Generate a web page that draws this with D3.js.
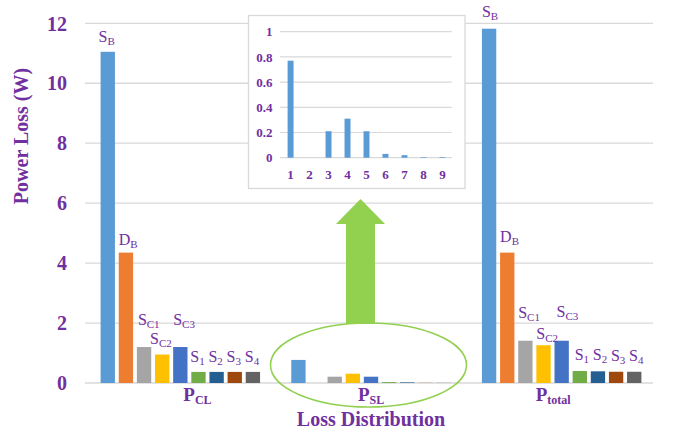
<!DOCTYPE html>
<html>
<head>
<meta charset="utf-8">
<script src="https://cdn.jsdelivr.net/npm/d3@7"></script>
<style>
  html, body { margin: 0; padding: 0; background: #fff; }
  svg { display: block; }
</style>
</head>
<body>
<svg id="chart" width="673" height="432"></svg>
<script>
// ---------------- DATA ----------------
const groups = ["CL", "SL", "total"];
const components = ["SB", "DB", "SC1", "SC2", "SC3", "S1", "S2", "S3", "S4"];
const compMain = ["S", "D", "S", "S", "S", "S", "S", "S", "S"];
const compSub  = ["B", "B", "C1", "C2", "C3", "1", "2", "3", "4"];
const pCL    = [11.05, 4.35, 1.20, 0.95, 1.20, 0.37, 0.37, 0.37, 0.37];
const pSL    = [0.77, 0.00, 0.21, 0.31, 0.21, 0.03, 0.02, 0.005, 0.005];
const pTotal = [11.82, 4.35, 1.41, 1.26, 1.41, 0.40, 0.39, 0.375, 0.375];
const yTicks = [0, 2, 4, 6, 8, 10, 12];
const insetLabels = ["1", "2", "3", "4", "5", "6", "7", "8", "9"];
const insetValues = [0.77, 0.00, 0.21, 0.31, 0.21, 0.03, 0.02, 0.005, 0.005];
const insetTicks = [0, 0.2, 0.4, 0.6, 0.8, 1];
const insetTickLabels = ["0", "0.2", "0.4", "0.6", "0.8", "1"];

// --------------- STYLE ----------------
const colors = ["#5B9BD5", "#ED7D31", "#A5A5A5", "#FFC000", "#4472C4",
                "#70AD47", "#255E91", "#9E480E", "#636363"];
const purple = "#7030A0";
const grid = "#D9D9D9";
const green = "#92D050";
const serif = "'Liberation Serif', 'Times New Roman', serif";

const series = { CL: pCL, SL: pSL, total: pTotal };

const svg = d3.select("#chart");

// scales
const x0 = d3.scaleBand().domain(groups).range([85, 657]);
const x1 = d3.scaleBand().domain(components).range([0, x0.bandwidth()])
  .paddingInner(0.21).paddingOuter(0.86);
const y = d3.scaleLinear().domain([0, 12]).range([383, 23.3]);

// gridlines
svg.append("g").selectAll("line").data(yTicks).join("line")
  .attr("x1", 85).attr("x2", 653)
  .attr("y1", d => y(d)).attr("y2", d => y(d))
  .attr("stroke", grid).attr("stroke-width", 1.3);

// y tick labels
svg.append("g").selectAll("text").data(yTicks).join("text")
  .attr("x", 67).attr("y", d => y(d)).attr("dy", "0.36em")
  .attr("text-anchor", "end")
  .attr("font-family", serif).attr("font-weight", "bold").attr("font-size", 20)
  .attr("fill", purple).text(d => d);

// y axis title
svg.append("text")
  .attr("transform", "translate(28,136) rotate(-90)")
  .attr("text-anchor", "middle")
  .attr("font-family", serif).attr("font-weight", "bold").attr("font-size", 20)
  .attr("fill", purple).text("Power Loss (W)");

// bars
const gGroups = svg.append("g").selectAll("g").data(groups).join("g")
  .attr("transform", g => `translate(${x0(g)},0)`);
gGroups.selectAll("rect")
  .data(g => series[g].map((v, i) => ({ g, v, c: components[i], i })))
  .join("rect")
  .attr("x", d => x1(d.c)).attr("width", x1.bandwidth())
  .attr("y", d => y(d.v)).attr("height", d => y(0) - y(d.v))
  .attr("fill", d => colors[d.i]);

// bar labels (annotation offsets)
const labelOffsets = {
  CL:    [[-2, 10], [0, 8], [1, 22], [-5, 11], [0, 22], [-1, 10], [-1, 10], [-1, 10], [-1, 10]],
  total: [[0, 12], [0, 11], [0, 23], [0, 6], [2, 24], [2, 11], [2, 11], [2, 11], [2, 11]]
};
["CL", "total"].forEach(g => {
  series[g].forEach((v, i) => {
    const [dx, dy] = labelOffsets[g][i];
    const t = svg.append("text")
      .attr("x", x0(g) + x1(components[i]) + dx)
      .attr("y", y(v) - dy)
      .attr("font-family", serif).attr("font-size", 16).attr("fill", purple);
    t.append("tspan").text(compMain[i]);
    t.append("tspan").attr("font-size", 11).attr("dy", 3).text(compSub[i]);
  });
});

// group labels
const groupLabelDx = { CL: 3, SL: -13, total: -26 };
groups.forEach(g => {
  const t = svg.append("text")
    .attr("x", x0(g) + x0.bandwidth() / 2 + groupLabelDx[g]).attr("y", 401)
    .attr("font-family", serif).attr("font-weight", "bold").attr("font-size", 19)
    .attr("fill", purple);
  t.append("tspan").text("P");
  t.append("tspan").attr("font-size", 12).attr("dy", 3).text(g === "total" ? "total" : g);
});

// "Loss Distribution"
svg.append("text")
  .attr("x", x0("SL") + x0.bandwidth() / 2).attr("y", 426)
  .attr("text-anchor", "middle")
  .attr("font-family", serif).attr("font-weight", "bold").attr("font-size", 20)
  .attr("fill", purple).text("Loss Distribution");

// ellipse around P_SL
const ecx = x0("SL") + x0.bandwidth() / 2 - 2.5, ecy = 365, erx = 98, ery = 42;
svg.append("ellipse")
  .attr("cx", ecx).attr("cy", ecy).attr("rx", erx).attr("ry", ery)
  .attr("fill", "none").attr("stroke", green).attr("stroke-width", 1.5);

// block arrow
const ax = 360.5, aTip = 199, aHeadBase = 224, aBottom = ecy - ery + 1;
const shaftHalf = 14.5, headHalf = 24.5;
svg.append("path")
  .attr("d", `M${ax},${aTip} L${ax + headHalf},${aHeadBase} L${ax + shaftHalf},${aHeadBase}
              L${ax + shaftHalf},${aBottom} L${ax - shaftHalf},${aBottom}
              L${ax - shaftHalf},${aHeadBase} L${ax - headHalf},${aHeadBase} Z`)
  .attr("fill", green);

// ---------------- INSET ----------------
svg.append("rect")
  .attr("x", 248.5).attr("y", 15.5).attr("width", 216.5).attr("height", 173)
  .attr("fill", "#fff").attr("stroke", grid).attr("stroke-width", 1.3);

const ix = d3.scaleBand().domain(insetLabels).range([280, 453])
  .paddingInner(0.686).paddingOuter(0.4);
const iy = d3.scaleLinear().domain([0, 1]).range([157.7, 31.7]);

svg.append("g").selectAll("line").data(insetTicks).join("line")
  .attr("x1", 280).attr("x2", 451.7)
  .attr("y1", d => iy(d)).attr("y2", d => iy(d))
  .attr("stroke", grid).attr("stroke-width", 1.2);

svg.append("g").selectAll("text").data(insetTicks).join("text")
  .attr("x", 272.5).attr("y", d => iy(d)).attr("dy", "0.36em")
  .attr("text-anchor", "end")
  .attr("font-family", serif).attr("font-weight", "bold").attr("font-size", 13)
  .attr("fill", purple).text((d, i) => insetTickLabels[i]);

svg.append("g").selectAll("rect").data(insetValues).join("rect")
  .attr("x", (d, i) => ix(insetLabels[i])).attr("width", ix.bandwidth())
  .attr("y", d => iy(d)).attr("height", d => iy(0) - iy(d))
  .attr("fill", colors[0]);

svg.append("g").selectAll("text").data(insetLabels).join("text")
  .attr("x", d => ix(d) + ix.bandwidth() / 2).attr("y", 179)
  .attr("text-anchor", "middle")
  .attr("font-family", serif).attr("font-weight", "bold").attr("font-size", 13)
  .attr("fill", purple).text(d => d);
</script>
</body>
</html>
